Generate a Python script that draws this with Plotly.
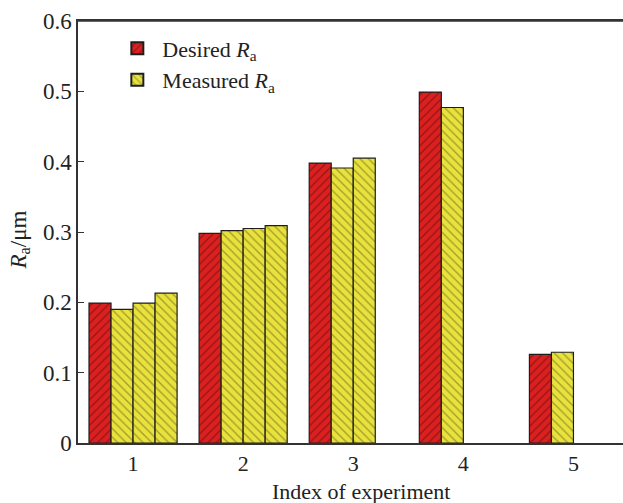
import plotly.graph_objects as go

experiments = [1, 2, 3, 4, 5]
desired_ra = [0.199, 0.298, 0.398, 0.499, 0.126]
measured_ra_1 = [0.190, 0.302, 0.391, 0.477, 0.129]
measured_ra_2 = [0.199, 0.305, 0.405, None, None]
measured_ra_3 = [0.213, 0.309, None, None, None]
y_ticks = [0, 0.1, 0.2, 0.3, 0.4, 0.5, 0.6]
y_tick_labels = ["0", "0.1", "0.2", "0.3", "0.4", "0.5", "0.6"]

RED = "#dc2020"
YEL = "#e9e23c"
EDGE = "#1e1e1e"
FONT = "Liberation Serif"

def red_marker():
    return dict(color=RED, line=dict(color=EDGE, width=1.2),
                pattern=dict(shape="/", fgcolor="#4a0c0c", size=6, solidity=0.22))

def yel_marker():
    return dict(color=YEL, line=dict(color=EDGE, width=1.2),
                pattern=dict(shape="\\", fgcolor="#55551e", size=6, solidity=0.22))

fig = go.Figure()
fig.add_trace(go.Bar(x=experiments, y=desired_ra, name="Desired <i>R</i><sub>a</sub>",
                     marker=red_marker(), legendgroup="d"))
fig.add_trace(go.Bar(x=experiments, y=measured_ra_1, name="Measured <i>R</i><sub>a</sub>",
                     marker=yel_marker(), legendgroup="m"))
fig.add_trace(go.Bar(x=experiments, y=measured_ra_2, name="Measured 2",
                     marker=yel_marker(), legendgroup="m", showlegend=False))
fig.add_trace(go.Bar(x=experiments, y=measured_ra_3, name="Measured 3",
                     marker=yel_marker(), legendgroup="m", showlegend=False))

fig.update_layout(
    width=623, height=503,
    margin=dict(l=78, r=0, t=21, b=60),
    paper_bgcolor="white", plot_bgcolor="white",
    barmode="group", bargap=0.2, bargroupgap=0,
    font=dict(family=FONT, size=22, color="#222222"),
    showlegend=True,
    legend=dict(x=0.063, y=0.985, xanchor="left", yanchor="top",
                bgcolor="rgba(0,0,0,0)", font=dict(family=FONT, size=22),
                itemsizing="constant", tracegroupgap=0, itemwidth=40),
    xaxis=dict(range=[0.5, 5.45], tickvals=experiments, ticktext=[str(e) for e in experiments],
               showline=True, linecolor="#333333", linewidth=1.5, mirror=True,
               ticks="", showgrid=False, zeroline=False, automargin=False,
               tickfont=dict(family=FONT, size=22)),
    yaxis=dict(range=[0, 0.6], tickvals=y_ticks, ticktext=y_tick_labels,
               showline=True, linecolor="#333333", linewidth=1.5,
               ticks="inside", ticklen=6, tickcolor="#333333",
               showgrid=False, zeroline=False, automargin=False,
               tickfont=dict(family=FONT, size=23)),
    shapes=[
        dict(type="line", xref="paper", yref="paper", x0=0, x1=1, y0=1, y1=1,
             line=dict(color="#333333", width=1.5), layer="above"),
    ],
    annotations=[
        dict(text="Index of experiment", xref="paper", yref="paper",
             x=0.52, y=0, yshift=-48, showarrow=False,
             xanchor="center", yanchor="middle", font=dict(family=FONT, size=22)),
        dict(text="<i>R</i><sub>a</sub>/μm", xref="paper", yref="paper",
             x=0, xshift=-58, y=0.48, showarrow=False, textangle=-90,
             xanchor="center", yanchor="middle", font=dict(family=FONT, size=23)),
    ],
)

fig.write_html("out.html", config={"displayModeBar": False},
               post_script="document.body.style.margin='0px';document.body.style.overflow='hidden';")
